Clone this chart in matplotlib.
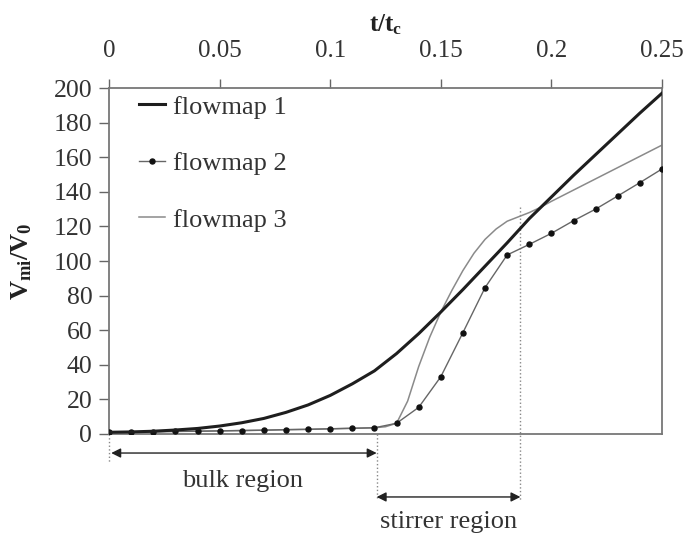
import matplotlib
matplotlib.use("Agg")
import matplotlib.pyplot as plt
import numpy as np

# --- data -------------------------------------------------------------
t1 = [0.00, 0.01, 0.02, 0.03, 0.04, 0.05, 0.06, 0.07, 0.08, 0.09, 0.10, 0.11, 0.12,
      0.13, 0.14, 0.15, 0.16, 0.17, 0.18, 0.19, 0.20, 0.21, 0.22, 0.23, 0.24, 0.25]
flowmap1 = [1.0, 1.2, 1.6, 2.3, 3.2, 4.6, 6.5, 9.0, 12.5, 16.8, 22.3, 29.0, 36.5,
            46.5, 58.0, 70.5, 83.5, 97.0, 110.5, 124.5, 137.0, 149.5, 161.5, 173.5, 185.5, 197.0]

t2 = t1
flowmap2 = [1.0, 1.2, 1.3, 1.5, 1.6, 1.8, 2.0, 2.2, 2.5, 2.7, 3.0, 3.3, 3.6,
            6.2, 15.4, 33.1, 58.6, 84.6, 103.5, 109.6, 116.0, 123.3, 130.0, 137.6, 145.3, 153.2]

t3 = [0.00, 0.01, 0.02, 0.03, 0.04, 0.05, 0.06, 0.07, 0.08, 0.09, 0.10, 0.11, 0.12,
      0.125, 0.13, 0.135, 0.14, 0.145, 0.15, 0.155, 0.16, 0.165, 0.17, 0.175, 0.18,
      0.185, 0.19, 0.195, 0.20, 0.21, 0.22, 0.23, 0.24, 0.25]
flowmap3 = [1.0, 1.2, 1.3, 1.5, 1.6, 1.8, 2.0, 2.2, 2.5, 2.7, 3.0, 3.3, 3.6,
            4.2, 6.2, 19.0, 39.0, 56.0, 70.5, 83.0, 94.5, 104.5, 112.5, 118.5, 123.0,
            125.5, 128.0, 131.0, 134.5, 141.0, 147.5, 154.0, 160.5, 167.0]

bulk_end = 0.121
stirrer_end = 0.186
xticks = [0, 0.05, 0.1, 0.15, 0.2, 0.25]
xtick_labels = ["0", "0.05", "0.1", "0.15", "0.2", "0.25"]
yticks = list(range(0, 201, 20))

# --- style ------------------------------------------------------------
plt.rcParams.update({
    "font.family": ["Liberation Serif", "DejaVu Serif"],
    "mathtext.fontset": "custom",
    "mathtext.rm": "Liberation Serif",
    "mathtext.it": "Liberation Serif:italic",
    "mathtext.bf": "Liberation Serif:bold",
})

fig = plt.figure(figsize=(6.87, 5.36), dpi=100)
ax = fig.add_axes([0.1587, 0.1903, 0.8049, 0.6455])

ax.plot(t1, flowmap1, color="#1e1e1e", lw=2.2, label="flowmap 1", zorder=4)
ax.plot(t2, flowmap2, color="#666666", lw=1.0, marker="o", ms=3.6,
        mfc="#111111", mec="#111111", label="flowmap 2", zorder=3)
ax.plot(t3, flowmap3, color="#8a8a8a", lw=1.1, label="flowmap 3", zorder=2)

ax.set_xlim(0, 0.25)
ax.set_ylim(0, 200)

# top x axis
ax.xaxis.set_ticks_position("top")
ax.xaxis.set_label_position("top")
ax.set_xticks(xticks)
ax.set_xticklabels(xtick_labels)
ax.set_yticks(yticks)
ax.tick_params(axis="x", direction="out", length=6.5, width=1, color="#666666",
               labelsize=18, labelcolor="#333333", pad=12.5)
ax.tick_params(axis="y", direction="out", length=7, width=1, color="#666666",
               labelsize=18.5, labelcolor="#333333", pad=5)
for sp in ax.spines.values():
    sp.set_color("#777777")
    sp.set_linewidth(1.3)

ax.set_xlabel(r"$\mathbf{t/t_c}$", fontsize=18, labelpad=6, color="#222222")
ax.set_ylabel(r"$\mathbf{V_{mi}/V_0}$", fontsize=19, labelpad=14, color="#222222")

leg = ax.legend(loc="upper left", bbox_to_anchor=(0.025, 1.025), frameon=False,
                fontsize=19, handlelength=1.0, handletextpad=0.3,
                labelspacing=1.25, borderaxespad=0.2)
for txt in leg.get_texts():
    txt.set_color("#333333")

# region markers below the axis
trans = ax.get_xaxis_transform()
ax.plot([0, 0], [0, -0.08], transform=trans, ls=":", color="#888888", lw=1, clip_on=False)
ax.plot([bulk_end, bulk_end], [0, -0.19], transform=trans, ls=":", color="#888888",
        lw=1, clip_on=False)
ax.plot([stirrer_end, stirrer_end], [0.655, -0.19], transform=trans, ls=":",
        color="#888888", lw=1, clip_on=False)

arrow = dict(arrowstyle="<|-|>", color="#222222", lw=1.0, mutation_scale=14,
             shrinkA=0, shrinkB=0)
ax.annotate("", xy=(0.001, -0.055), xytext=(bulk_end, -0.055), xycoords=trans,
            textcoords=trans, arrowprops=arrow, annotation_clip=False)
ax.annotate("", xy=(bulk_end, -0.182), xytext=(stirrer_end, -0.182), xycoords=trans,
            textcoords=trans, arrowprops=arrow, annotation_clip=False)
ax.text(bulk_end / 2, -0.136, "bulk region", transform=trans, ha="center",
        va="center", fontsize=19, color="#333333")
ax.text((bulk_end + stirrer_end) / 2, -0.254, "stirrer region", transform=trans,
        ha="center", va="center", fontsize=19, color="#333333")

fig.savefig("out.png", dpi=100)
